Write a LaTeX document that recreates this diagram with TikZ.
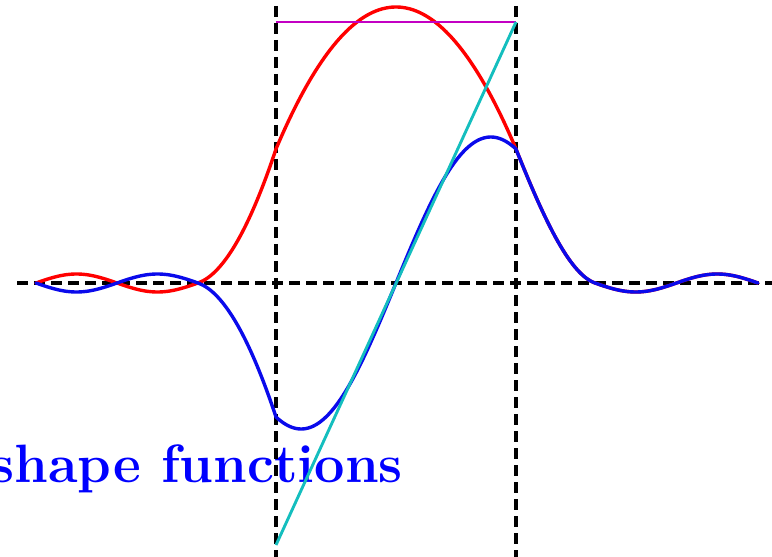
\documentclass[tikz,border=0pt]{standalone}
\definecolor{cred}{RGB}{255,0,0}
\definecolor{cblue}{RGB}{10,10,235}
\definecolor{ccyan}{RGB}{20,190,190}
\definecolor{cmag}{RGB}{195,0,195}
\definecolor{ctext}{RGB}{0,0,255}
\tikzset{
  dashaxis/.style={black, line width=3.1pt, dash pattern=on 11pt off 6pt},
  curve/.style={line width=3.4pt, line join=round, line cap=round},
  straight/.style={line width=2.9pt},
}
\begin{document}
\begin{tikzpicture}[x=1pt,y=1pt]
\useasboundingbox (0,-274) rectangle (772,283);
% label (drawn first: lines pass over it)
\node[anchor=base east, inner sep=0pt, text=ctext, font=\fontsize{54}{60}\selectfont\bfseries] (title) at (403,-199) {shape functions};
\begin{scope}[xshift=1pt]
% axes
\coordinate (axl) at (16,0);
\coordinate (axr) at (775,0);
\coordinate (v1t) at (275,277);
\coordinate (v1b) at (275,-280);
\coordinate (v2t) at (515,277);
\coordinate (v2b) at (515,-280);
\draw[dashaxis] (axl) -- (axr);
\draw[dashaxis] (v1t) -- (v1b);
\draw[dashaxis] (v2t) -- (v2b);
% red curve
\draw[curve, cred]
  plot[domain=35:197, samples=60] (\x,{9*sin(2.22222*(\x-35))})
  .. controls (223,9.1) and (249,56) .. (275,134)
  -- plot[domain=275:515, samples=80] (\x,{276-142*((\x-395)/120)^2})
  .. controls (541.33,68.17) and (567.67,9.22) .. (594,0)
  -- plot[domain=594:757, samples=60] (\x,{-9*sin(2.20859*(\x-594))});
% magenta line
\coordinate (m1) at (275,261);
\coordinate (m2) at (515,261);
\draw[straight, cmag] (m1) -- (m2);
% blue curve
\draw[curve, cblue]
  plot[domain=35:197, samples=60] (\x,{-9*sin(2.22222*(\x-35))})
  .. controls (223,-9.1) and (249,-56) .. (275,-134)
  -- plot[domain=-1:1, samples=120, variable=\s] ({395+120*\s},{290.6*\s-191*\s*\s*\s+34.4*\s*\s*\s*\s*\s})
  .. controls (541.33,68.17) and (567.67,9.22) .. (594,0)
  -- plot[domain=594:757, samples=60] (\x,{-9*sin(2.20859*(\x-594))});
% cyan line
\coordinate (c1) at (275,-262);
\coordinate (c2) at (515,261);
\draw[straight, ccyan] (c1) -- (c2);
\end{scope}
\end{tikzpicture}
\end{document}
